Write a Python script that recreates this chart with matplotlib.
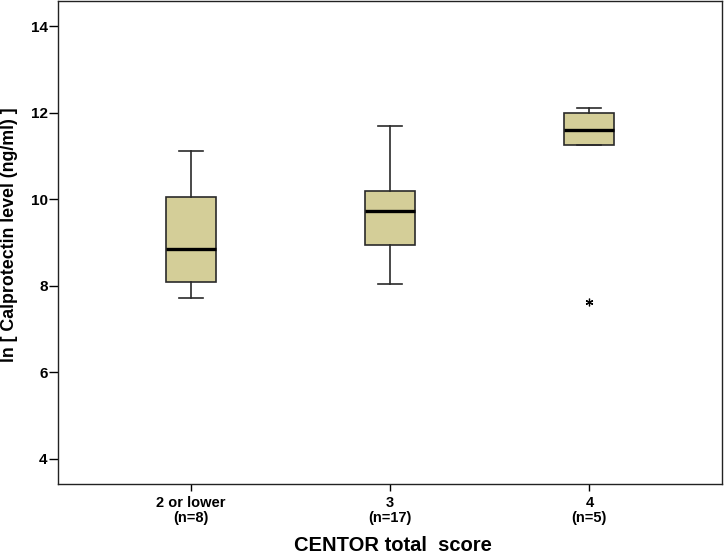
import matplotlib
matplotlib.use("Agg")
import matplotlib.pyplot as plt

plt.rcParams['font.family'] = ['Liberation Sans', 'DejaVu Sans']

categories = ["2 or lower\n(n=8)", "3\n(n=17)", "4\n(n=5)"]
q1 = [8.08, 8.94, 11.25]
medians = [8.86, 9.73, 11.59]
q3 = [10.06, 10.20, 12.00]
whislo = [7.71, 8.03, 11.25]
whishi = [11.12, 11.70, 12.10]
outliers = [[], [], [7.63]]
yticks = [4, 6, 8, 10, 12, 14]

stats = []
for i in range(len(categories)):
    stats.append(dict(med=medians[i], q1=q1[i], q3=q3[i],
                      whislo=whislo[i], whishi=whishi[i], fliers=outliers[i]))

fig = plt.figure(figsize=(7.24, 5.54), dpi=100)
ax = fig.add_axes([58/724, 1 - 484/554, 664/724, 483/554])

positions = [1, 2, 3]
ax.bxp(stats, positions=positions, widths=0.25, capwidths=0.12,
       patch_artist=True, showfliers=True,
       boxprops=dict(facecolor='#D4CE98', edgecolor='#2a2a2a', linewidth=1.2),
       medianprops=dict(color='black', linewidth=2.4),
       whiskerprops=dict(color='#2a2a2a', linewidth=1.2),
       capprops=dict(color='#2a2a2a', linewidth=1.2),
       flierprops=dict(marker=(6, 2, 0), markersize=5.5, markeredgecolor='black',
                       markerfacecolor='black', markeredgewidth=0.9, linestyle='none'))

ax.set_xlim(0.335, 3.665)
ax.set_ylim(3.42, 14.58)
ax.set_yticks(yticks)
ax.set_yticklabels([str(t) for t in yticks], fontsize=11, fontweight='bold')
ax.set_xticks(positions)
ax.set_xticklabels(categories, fontsize=10.5, fontweight='bold', linespacing=1.15)
ax.tick_params(axis='y', length=6.5, width=1, pad=1)
ax.tick_params(axis='x', length=5, width=1, pad=3.5)

for sp in ax.spines.values():
    sp.set_linewidth(1.0)
    sp.set_color('#222222')

ax.set_ylabel("ln [ Calprotectin level (ng/ml) ]", fontsize=12.8, fontweight='bold')
ax.yaxis.set_label_coords(-(58 - 18) / 664, (484 - 235) / 483)
ax.set_xlabel("CENTOR total  score", fontsize=14.5, fontweight='bold')
ax.xaxis.set_label_coords((393 - 58) / 664, -(551 - 484) / 483)
ax.xaxis.label.set_verticalalignment('baseline')

fig.savefig("out.png", dpi=100)
